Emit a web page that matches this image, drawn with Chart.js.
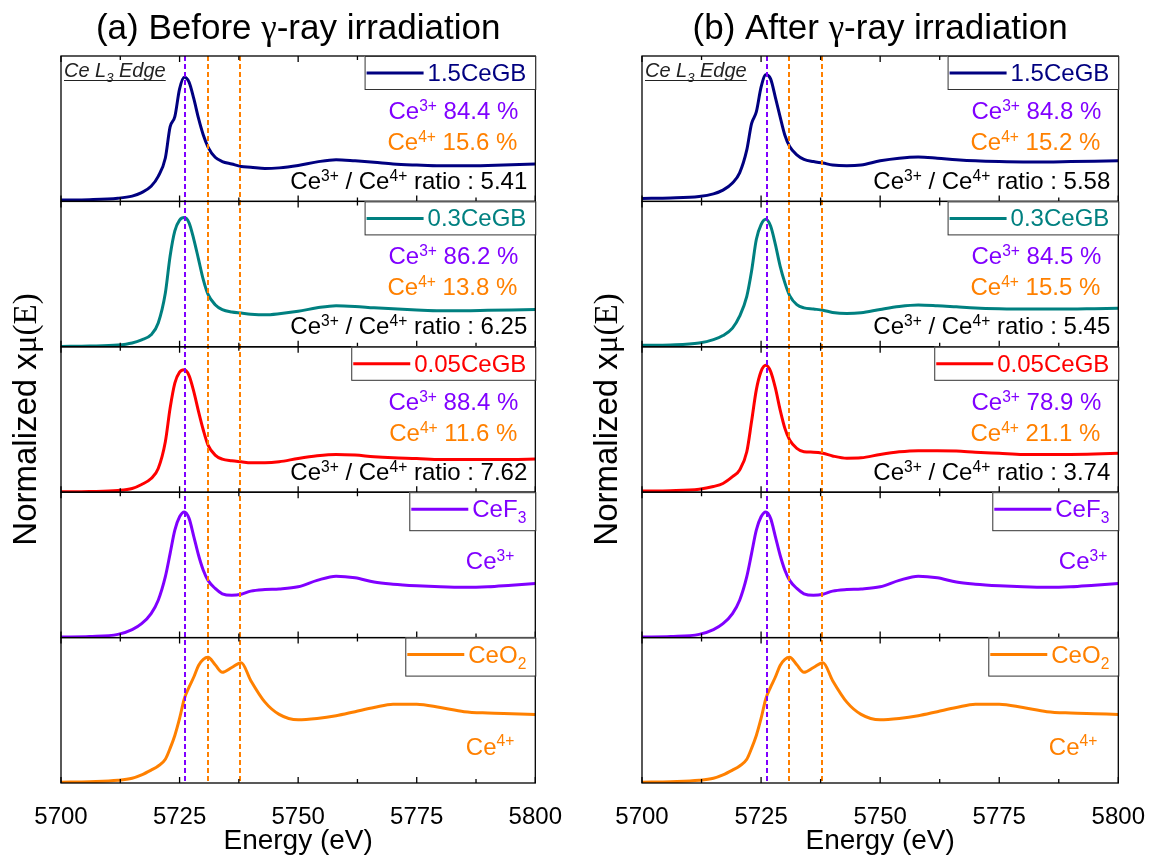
<!DOCTYPE html>
<html>
<head>
<meta charset="utf-8">
<script src="https://cdn.jsdelivr.net/npm/chart.js@4.4.0/dist/chart.umd.min.js"></script>
<style>
  html, body { margin: 0; padding: 0; background: #fff; }
  #wrap { position: relative; width: 1165px; height: 858px; }
  #chartBefore { position: absolute; left: 0; top: 0; }
  #chartAfter { position: absolute; left: 582px; top: 0; }
</style>
</head>
<body>
<div id="wrap">
  <canvas id="chartBefore" width="582" height="858"></canvas>
  <canvas id="chartAfter" width="583" height="858"></canvas>
</div>
<script>
// energy grid (eV)
const energy = [5700, 5706, 5712, 5715, 5717, 5719, 5720.5, 5722, 5723, 5724, 5725, 5726, 5727, 5728, 5729, 5730, 5731, 5732.5, 5734, 5736,
                5738, 5740, 5743, 5746, 5750, 5754, 5758, 5762, 5766, 5770, 5775, 5780, 5785, 5790, 5795, 5800];

// normalized xmu(E), before irradiation
const before15 = [0, 0.01, 0.05, 0.11, 0.21, 0.39, 0.67, 1.19, 2.07, 2.36, 3.15, 3.48, 3.34, 2.87, 2.31, 1.84, 1.50, 1.21, 1.09, 1.02,
                  0.95, 0.93, 0.89, 0.91, 0.98, 1.08, 1.14, 1.11, 1.07, 1.02, 0.99, 0.97, 0.97, 0.98, 1.00, 1.02];
const before03 = [0, 0.01, 0.04, 0.10, 0.19, 0.33, 0.67, 1.52, 2.57, 3.29, 3.60, 3.67, 3.52, 3.05, 2.48, 1.90, 1.48, 1.19, 1.05, 0.98,
                  0.95, 0.92, 0.90, 0.93, 1.00, 1.10, 1.16, 1.14, 1.10, 1.07, 1.04, 1.02, 1.02, 1.03, 1.04, 1.05];
const before005 = [0, 0.01, 0.04, 0.10, 0.22, 0.40, 0.70, 1.50, 2.50, 3.25, 3.58, 3.65, 3.48, 3.00, 2.40, 1.85, 1.40, 1.10, 0.98, 0.93,
                   0.90, 0.87, 0.87, 0.90, 1.00, 1.08, 1.12, 1.10, 1.05, 1.02, 1.00, 0.97, 0.97, 0.97, 0.97, 0.98];

// after irradiation
const after15 = [0, 0.01, 0.05, 0.12, 0.22, 0.41, 0.68, 1.29, 1.99, 2.30, 2.96, 3.29, 3.18, 2.69, 2.17, 1.68, 1.38, 1.16, 1.04, 0.98,
                 0.94, 0.89, 0.87, 0.89, 1.00, 1.07, 1.10, 1.07, 1.03, 1.00, 0.98, 0.97, 0.97, 0.98, 0.99, 1.00];
const after03 = [0, 0.01, 0.06, 0.15, 0.26, 0.46, 0.78, 1.31, 1.98, 2.83, 3.23, 3.37, 3.19, 2.70, 2.12, 1.67, 1.33, 1.09, 1.00, 0.97,
                 0.94, 0.88, 0.85, 0.87, 0.96, 1.04, 1.08, 1.06, 1.03, 1.00, 0.98, 0.97, 0.97, 0.97, 0.98, 0.99];
const after005 = [0, 0.01, 0.05, 0.12, 0.20, 0.38, 0.56, 1.04, 1.84, 2.68, 3.17, 3.33, 3.17, 2.73, 2.15, 1.66, 1.35, 1.13, 1.04, 1.03,
                  1.00, 0.93, 0.87, 0.88, 0.97, 1.04, 1.07, 1.07, 1.06, 1.03, 1.00, 0.97, 0.97, 0.97, 0.98, 1.00];

// references
const refCeF3 = [0, 0.01, 0.05, 0.14, 0.25, 0.44, 0.69, 1.13, 1.56, 2.00, 2.25, 2.34, 2.22, 1.88, 1.53, 1.25, 1.06, 0.91, 0.81, 0.78,
                 0.80, 0.86, 0.89, 0.90, 0.94, 1.06, 1.14, 1.11, 1.03, 0.99, 0.96, 0.94, 0.93, 0.94, 0.97, 1.00];
const refCeO2 = [0, 0.01, 0.03, 0.06, 0.11, 0.18, 0.24, 0.34, 0.50, 0.69, 0.94, 1.23, 1.40, 1.55, 1.72, 1.81, 1.84, 1.73, 1.62, 1.69,
                 1.76, 1.50, 1.18, 1.00, 0.92, 0.94, 0.98, 1.04, 1.10, 1.15, 1.15, 1.10, 1.04, 1.02, 1.01, 1.00];

const sampleNames = ['1.5CeGB', '0.3CeGB', '0.05CeGB', 'CeF3', 'CeO2'];
const sampleColors = ['#000080', '#008080', '#ff0000', '#8000ff', '#ff8000'];
const xTicks = [5700, 5725, 5750, 5775, 5800];
const markerLines = [5726.2, 5730.9, 5737.7];
const markerColors = ['#8000ff', '#ff8000', '#ff8000'];

const ce3Before = ['84.4', '86.2', '88.4'];
const ce4Before = ['15.6', '13.8', '11.6'];
const ratioBefore = ['5.41', '6.25', '7.62'];
const ce3After = ['84.8', '84.5', '78.9'];
const ce4After = ['15.2', '15.5', '21.1'];
const ratioAfter = ['5.58', '5.45', '3.74'];

// y ranges of the five stacked panels
const yMinBefore = [-0.04, -0.01, -0.01, -0.01, -0.01];
const yMaxBefore = [4.08, 4.13, 4.34, 2.71, 2.13];
const yMinAfter = [-0.08, -0.04, -0.03, -0.01, -0.01];
const yMaxAfter = [3.79, 3.85, 3.82, 2.71, 2.13];

const SANS = '"Liberation Sans", Arial, sans-serif';
const SERIF = '"Liberation Serif", "Times New Roman", serif';

// parts: [text, 'sup'|'sub'|'', family, style]
function richText(ctx, parts, x, y, size, color, align) {
  const fontOf = p => (p[3] || '') + ' ' + (p[1] ? size * 0.65 : size) + 'px ' + (p[2] || SANS);
  const widths = parts.map(p => { ctx.font = fontOf(p); return ctx.measureText(p[0]).width; });
  const total = widths.reduce((a, b) => a + b, 0);
  let cx = align === 'right' ? x - total : (align === 'center' ? x - total / 2 : x);
  ctx.fillStyle = color;
  ctx.textAlign = 'left';
  ctx.textBaseline = 'alphabetic';
  parts.forEach((p, i) => {
    ctx.font = fontOf(p);
    const dy = p[1] === 'sup' ? -size * 0.34 : (p[1] === 'sub' ? size * 0.26 : 0);
    ctx.fillText(p[0], cx, y + dy);
    cx += widths[i];
  });
  return total;
}

function nameParts(name) {
  const m = name.match(/^(Ce[A-Z])(\d)$/);
  return m ? [[m[1]], [m[2], 'sub']] : [[name]];
}

function drawLegend(ctx, name, color, right, top) {
  const parts = nameParts(name);
  const hasSub = parts.length > 1;
  let w = 0;
  parts.forEach(p => { ctx.font = (p[1] ? 24 * 0.65 : 24) + 'px ' + SANS; w += ctx.measureText(p[0]).width; });
  const boxW = w + 72, boxH = hasSub ? 38 : 33;
  const left = right - boxW;
  ctx.fillStyle = '#fff';
  ctx.fillRect(left, top, boxW, boxH);
  ctx.strokeStyle = '#333';
  ctx.lineWidth = 1;
  ctx.strokeRect(left + 0.5, top + 0.5, boxW, boxH);
  ctx.strokeStyle = color;
  ctx.lineWidth = 3;
  ctx.beginPath();
  ctx.moveTo(left + 2, top + 17);
  ctx.lineTo(left + 59, top + 17);
  ctx.stroke();
  richText(ctx, parts, left + 63, top + 25, 24, color, 'left');
}

function panelDecor(cfg) {
  return {
    id: 'panelDecor',
    afterDatasetsDraw(chart) {
      const ctx = chart.ctx, area = chart.chartArea, xs = chart.scales.x;
      const panels = ['y0', 'y1', 'y2', 'y3', 'y4'].map(id => chart.scales[id]);
      ctx.save();

      // dashed guide lines
      ctx.lineWidth = 2;
      ctx.setLineDash([5, 3]);
      markerLines.forEach((e, i) => {
        const px = Math.round(xs.getPixelForValue(e));
        ctx.strokeStyle = markerColors[i];
        ctx.beginPath();
        ctx.moveTo(px, area.top);
        ctx.lineTo(px, area.bottom);
        ctx.stroke();
      });
      ctx.setLineDash([]);

      // panel frames + inward ticks
      ctx.strokeStyle = '#000';
      ctx.lineWidth = 1.3;
      panels.forEach(s => {
        ctx.strokeRect(area.left, s.top, area.right - area.left, s.bottom - s.top);
        for (let v = xs.min; v <= xs.max; v += 12.5) {
          const px = xs.getPixelForValue(v);
          const len = xTicks.includes(v) ? 6 : 4;
          ctx.beginPath();
          ctx.moveTo(px, s.top);
          ctx.lineTo(px, s.top + len);
          ctx.moveTo(px, s.bottom);
          ctx.lineTo(px, s.bottom - len);
          ctx.stroke();
        }
      });

      // legends
      panels.forEach((s, i) => drawLegend(ctx, sampleNames[i], sampleColors[i], area.right, s.top));

      // composition notes
      for (let i = 0; i < 3; i++) {
        const t = panels[i].top;
        richText(ctx, [['Ce'], ['3+', 'sup'], [' ' + cfg.ce3[i] + ' %']], area.right - 17, t + 63, 24, '#8000ff', 'right');
        richText(ctx, [['Ce'], ['4+', 'sup'], [' ' + cfg.ce4[i] + ' %']], area.right - 18, t + 94, 24, '#ff8000', 'right');
        richText(ctx, [['Ce'], ['3+', 'sup'], [' / Ce'], ['4+', 'sup'], [' ratio : ' + cfg.ratio[i]]],
                 area.right - 8, t + 133, 24, '#000', 'right');
      }
      richText(ctx, [['Ce'], ['3+', 'sup']], area.right - cfg.ce3RefRight, panels[3].top + 77, 24, '#8000ff', 'right');
      richText(ctx, [['Ce'], ['4+', 'sup']], area.right - 21, panels[4].top + 117, 24, '#ff8000', 'right');

      // edge label
      const ew = richText(ctx, [['Ce L', '', SANS, 'italic'], ['3', 'sub', SANS, 'italic'], [' Edge', '', SANS, 'italic']],
                          area.left + 3, panels[0].top + 21, 20, '#222', 'left');
      ctx.strokeStyle = '#222';
      ctx.lineWidth = 1;
      ctx.beginPath();
      ctx.moveTo(area.left + 3, panels[0].top + 24.5);
      ctx.lineTo(area.left + 3 + ew, panels[0].top + 24.5);
      ctx.stroke();

      // panel title
      const cx = (area.left + area.right) / 2;
      richText(ctx, [[cfg.titleHead], ['\u03b3', '', SERIF], ['-ray irradiation']], cx, 39, 35, '#000', 'center');

      // y axis title
      ctx.translate(cfg.yTitleX, (area.top + area.bottom) / 2);
      ctx.rotate(-Math.PI / 2);
      richText(ctx, [['Normalized x'], ['\u03bc(E)', '', SERIF]], 0, 12, 33, '#000', 'center');
      ctx.restore();
    }
  };
}

function buildScales(mins, maxs) {
  const scales = {
    x: {
      type: 'linear', min: 5700, max: 5800,
      afterFit: s => { s.height = 75; },
      grid: { display: false, drawTicks: false },
      border: { display: false },
      ticks: { stepSize: 25, padding: 20, color: '#000', maxRotation: 0, font: { family: SANS, size: 24 },
               callback: v => String(v) },
      title: { display: true, text: 'Energy (eV)', color: '#000', font: { family: SANS, size: 28 }, padding: { top: 0, bottom: 0 } }
    }
  };
  mins.forEach((m, i) => {
    scales['y' + i] = {
      type: 'linear', position: 'left', stack: 'panels', stackWeight: 1, weight: 5 - i,
      min: m, max: maxs[i],
      afterFit: s => { s.width = 0; },
      grid: { display: false, drawTicks: false },
      border: { display: false },
      ticks: { display: false }
    };
  });
  return scales;
}

function makeDatasets(series) {
  return series.map((vals, i) => ({
    label: sampleNames[i],
    data: energy.map((e, k) => ({ x: e, y: vals[k] })),
    yAxisID: 'y' + i,
    borderColor: sampleColors[i],
    borderWidth: 3,
    pointRadius: 0,
    cubicInterpolationMode: 'monotone',
    fill: false
  }));
}

function makeChart(id, series, mins, maxs, pad, cfg) {
  return new Chart(document.getElementById(id), {
    type: 'line',
    data: { datasets: makeDatasets(series) },
    options: {
      responsive: false,
      animation: false,
      devicePixelRatio: 1,
      layout: { padding: pad },
      plugins: { legend: { display: false }, tooltip: { enabled: false }, title: { display: false } },
      scales: buildScales(mins, maxs)
    },
    plugins: [panelDecor(cfg)]
  });
}

makeChart('chartBefore', [before15, before03, before005, refCeF3, refCeO2], yMinBefore, yMaxBefore,
  { left: 61, right: 46, top: 56, bottom: 0 },
  { ce3: ce3Before, ce4: ce4Before, ratio: ratioBefore, titleHead: '(a) Before ', yTitleX: 24, ce3RefRight: 21 });

makeChart('chartAfter', [after15, after03, after005, refCeF3, refCeO2], yMinAfter, yMaxAfter,
  { left: 60, right: 44, top: 56, bottom: 0 },
  { ce3: ce3After, ce4: ce4After, ratio: ratioAfter, titleHead: '(b) After ', yTitleX: 23, ce3RefRight: 11 });
</script>
</body>
</html>
